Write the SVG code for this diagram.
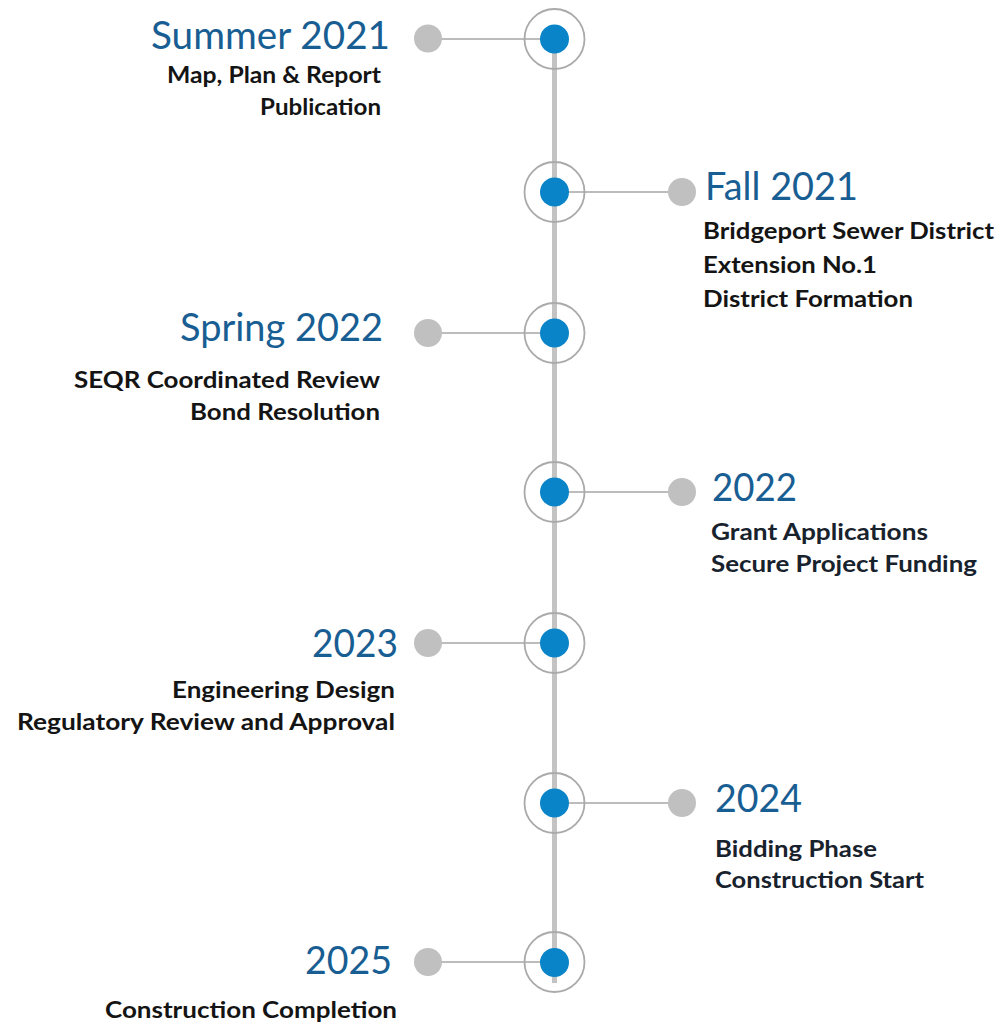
<svg xmlns="http://www.w3.org/2000/svg" width="1000" height="1027" viewBox="0 0 1000 1027">
<style>
.title{font-family:Lato,"Liberation Sans",sans-serif;font-size:39px;fill:#185e93}
.body{font-family:Lato,"Liberation Sans",sans-serif;font-size:22px;font-weight:bold;fill:#141414}
.bodyr{font-family:Lato,"Liberation Sans",sans-serif;font-size:22px;font-weight:bold;fill:#18222d}
.ring{fill:none;stroke:#aaaaaa;stroke-width:1.8}
.dot{fill:#0a84c8}
.gdot{fill:#c0c0c0}
.conn{stroke:#bcbcbc;stroke-width:2;fill:none}
.spine{stroke:#c3c3c3;stroke-width:5;fill:none}
</style>
<rect width="1000" height="1027" fill="#ffffff"/>
<g id="connectors">
<line class="spine" x1="554.5" y1="39" x2="554.5" y2="983"/>
<line class="conn" x1="428" y1="39" x2="554" y2="39"/>
<line class="conn" x1="554" y1="192" x2="682" y2="192"/>
<line class="conn" x1="428" y1="333" x2="554" y2="333"/>
<line class="conn" x1="554" y1="492" x2="682" y2="492"/>
<line class="conn" x1="428" y1="643" x2="554" y2="643"/>
<line class="conn" x1="554" y1="803" x2="682" y2="803"/>
<line class="conn" x1="428" y1="962" x2="554" y2="962"/>
</g>
<g id="node-summer-2021">
<circle class="ring" cx="554.5" cy="39" r="30"/>
<circle class="dot" cx="554.5" cy="39" r="14.5"/>
<circle class="gdot" cx="428" cy="38.5" r="14"/>
<text class="title" x="151" y="49" textLength="239" lengthAdjust="spacingAndGlyphs">Summer 2021</text>
<text class="body" x="167" y="83" textLength="214" lengthAdjust="spacingAndGlyphs">Map, Plan &amp; Report</text>
<text class="body" x="260" y="115" textLength="121" lengthAdjust="spacingAndGlyphs">Publication</text>
</g>
<g id="node-fall-2021">
<circle class="ring" cx="554.5" cy="192" r="30"/>
<circle class="dot" cx="554.5" cy="192" r="14.5"/>
<circle class="gdot" cx="682" cy="192" r="14"/>
<text class="title" x="705" y="200" textLength="153" lengthAdjust="spacingAndGlyphs">Fall 2021</text>
<text class="body" x="703" y="239" textLength="291" lengthAdjust="spacingAndGlyphs">Bridgeport Sewer District</text>
<text class="body" x="703" y="273" textLength="174" lengthAdjust="spacingAndGlyphs">Extension No.1</text>
<text class="body" x="703" y="307" textLength="210" lengthAdjust="spacingAndGlyphs">District Formation</text>
</g>
<g id="node-spring-2022">
<circle class="ring" cx="554.5" cy="333" r="30"/>
<circle class="dot" cx="554.5" cy="333" r="14.5"/>
<circle class="gdot" cx="428" cy="333" r="14"/>
<text class="title" x="180" y="341" textLength="203" lengthAdjust="spacingAndGlyphs">Spring 2022</text>
<text class="body" x="74" y="388" textLength="306" lengthAdjust="spacingAndGlyphs">SEQR Coordinated Review</text>
<text class="body" x="190" y="420" textLength="190" lengthAdjust="spacingAndGlyphs">Bond Resolution</text>
</g>
<g id="node-2022">
<circle class="ring" cx="554.5" cy="492" r="30"/>
<circle class="dot" cx="554.5" cy="492" r="14.5"/>
<circle class="gdot" cx="682" cy="492" r="14"/>
<text class="title" x="712" y="501" textLength="85" lengthAdjust="spacingAndGlyphs">2022</text>
<text class="bodyr" x="711" y="540" textLength="217" lengthAdjust="spacingAndGlyphs">Grant Applications</text>
<text class="bodyr" x="711" y="572" textLength="266" lengthAdjust="spacingAndGlyphs">Secure Project Funding</text>
</g>
<g id="node-2023">
<circle class="ring" cx="554.5" cy="643" r="30"/>
<circle class="dot" cx="554.5" cy="643" r="14.5"/>
<circle class="gdot" cx="428" cy="643" r="14"/>
<text class="title" x="312" y="657" textLength="86" lengthAdjust="spacingAndGlyphs">2023</text>
<text class="body" x="172" y="698" textLength="223" lengthAdjust="spacingAndGlyphs">Engineering Design</text>
<text class="body" x="17" y="730" textLength="378" lengthAdjust="spacingAndGlyphs">Regulatory Review and Approval</text>
</g>
<g id="node-2024">
<circle class="ring" cx="554.5" cy="803" r="30"/>
<circle class="dot" cx="554.5" cy="803" r="14.5"/>
<circle class="gdot" cx="682" cy="803" r="14"/>
<text class="title" x="715" y="812" textLength="87" lengthAdjust="spacingAndGlyphs">2024</text>
<text class="bodyr" x="715" y="857" textLength="162" lengthAdjust="spacingAndGlyphs">Bidding Phase</text>
<text class="bodyr" x="715" y="888" textLength="209" lengthAdjust="spacingAndGlyphs">Construction Start</text>
</g>
<g id="node-2025">
<circle class="ring" cx="554.5" cy="962" r="30"/>
<circle class="dot" cx="554.5" cy="962.5" r="14.5"/>
<circle class="gdot" cx="428" cy="962" r="14"/>
<text class="title" x="305" y="974" textLength="87" lengthAdjust="spacingAndGlyphs">2025</text>
<text class="body" x="105" y="1018" textLength="292" lengthAdjust="spacingAndGlyphs">Construction Completion</text>
</g>
</svg>
